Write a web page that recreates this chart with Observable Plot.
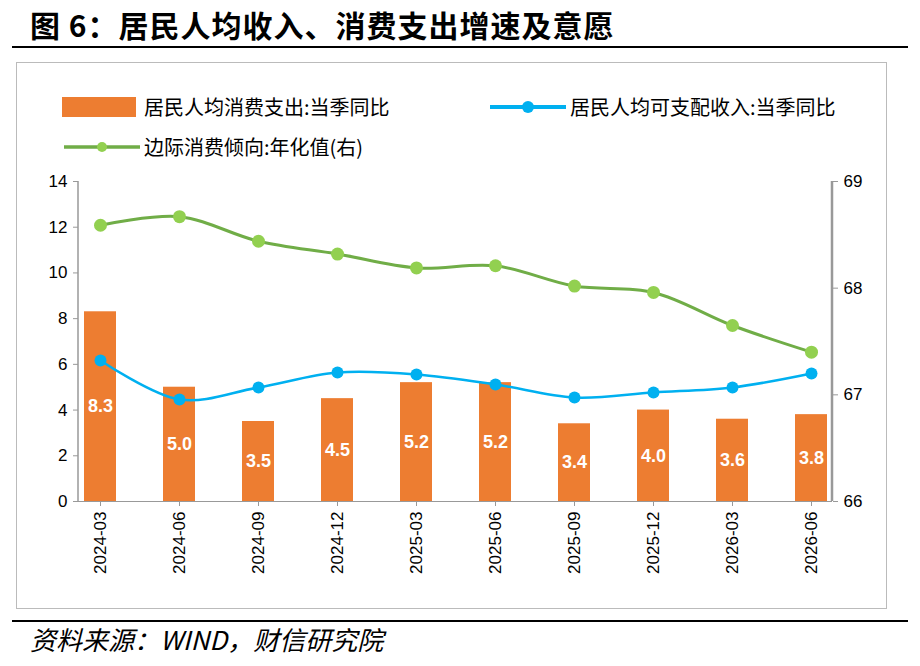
<!DOCTYPE html>
<html><head><meta charset="utf-8">
<script src="https://cdn.jsdelivr.net/npm/d3@7"></script>
<script src="https://cdn.jsdelivr.net/npm/@observablehq/plot@0.6"></script>
<style>
body{margin:0;width:920px;height:666px;background:#fff;position:relative;font-family:"Liberation Sans",Arial,"Noto Sans CJK SC";overflow:hidden}
#title{position:absolute;left:30px;top:2px;font:bold 30px "Noto Sans CJK SC";color:#000;letter-spacing:1px}
#tl{position:absolute;left:12px;top:46px;width:896px;border-top:2px solid #000}
#box{position:absolute;left:16px;top:62px;width:869px;height:545px;border:1px solid #bbb}
.leg{position:absolute;font:20px "Noto Sans CJK SC";color:#000;display:flex;align-items:center}
#chart{position:absolute;left:0;top:160px}
#bl{position:absolute;left:12px;top:620px;width:896px;border-top:2px solid #000}
#src{position:absolute;left:30px;top:620px;font:italic 26px "Noto Sans CJK SC";color:#000}
</style></head><body>
<div id="title">图 6：居民人均收入、消费支出增速及意愿</div>
<div id="tl"></div>
<div id="box"></div>
<div class="leg" style="left:62px;top:92px"><span style="display:inline-block;width:74px;height:20px;background:#ED7D31;margin-right:8px"></span>居民人均消费支出:当季同比</div>
<div class="leg" style="left:488px;top:92px"><svg width="80" height="20"><line x1="2" y1="10" x2="78" y2="10" stroke="#00B0F0" stroke-width="4"/><circle cx="40" cy="10" r="6" fill="#00B0F0"/></svg><span style="margin-left:2px">居民人均可支配收入:当季同比</span></div>
<div class="leg" style="left:62px;top:132px"><svg width="80" height="20"><line x1="2" y1="10" x2="78" y2="10" stroke="#70AD47" stroke-width="3.5"/><circle cx="40" cy="10" r="5" fill="#92D050"/></svg><span style="margin-left:2px">边际消费倾向:年化值(右)</span></div>
<div id="chart"></div>
<div id="bl"></div>
<div id="src">资料来源：WIND，财信研究院</div>
<script>
const dates=["2024-03","2024-06","2024-09","2024-12","2025-03","2025-06","2025-09","2025-12","2026-03","2026-06"];
const spend=[8.3,5.0,3.5,4.5,5.2,5.2,3.4,4.0,3.6,3.8];
const income=[6.17,4.46,4.99,5.64,5.56,5.12,4.55,4.77,4.99,5.60];
const mpc=[68.59,68.67,68.44,68.32,68.19,68.21,68.02,67.96,67.65,67.40];
const leftTicks=[0,2,4,6,8,10,12,14];
const rightTicks=[66,67,68,69];
const toL=v=>(v-66)/3*14, toR=v=>66+v*3/14;
const rows=dates.map((d,i)=>({d,s:spend[i],inc:income[i],m:toL(mpc[i])}));
const ax="#999";
const p=Plot.plot({
 width:920,height:460,marginTop:21,marginBottom:119,marginLeft:78,marginRight:88,
 style:{fontFamily:"Liberation Sans, Arial",fontSize:"17px",color:"#000",background:"transparent"},
 x:{domain:dates,paddingInner:0.6,paddingOuter:0.04,label:null},
 y:{domain:[0,14],label:null},
 marks:[
  Plot.barY(rows,{x:"d",y:"s",fill:"#ED7D31"}),
  Plot.text(rows,{x:"d",y:d=>d.s/2,text:d=>d.s.toFixed(1),fill:"white",fontSize:18,fontWeight:"bold"}),
  Plot.line(rows,{x:"d",y:"inc",stroke:"#00B0F0",strokeWidth:2.5,curve:"catmull-rom"}),
  Plot.dot(rows,{x:"d",y:"inc",fill:"#00B0F0",r:6}),
  Plot.line(rows,{x:"d",y:"m",stroke:"#70AD47",strokeWidth:3,curve:"catmull-rom"}),
  Plot.dot(rows,{x:"d",y:"m",fill:"#92D050",r:6.5}),
  Plot.axisY({ticks:leftTicks,tickSize:5,tickPadding:6,stroke:ax,fontSize:17}),
  Plot.ruleY([0],{stroke:ax}),
  Plot.axisY({anchor:"right",ticks:rightTicks.map(toL),tickFormat:v=>String(Math.round(toR(v))),tickSize:5,tickPadding:6,stroke:ax,fontSize:17}),
  Plot.axisX({tickRotate:-90,tickSize:5,tickPadding:5,stroke:ax,fontSize:17})
 ]
});
const svg=d3.select(p);
svg.append("line").attr("x1",78).attr("x2",78).attr("y1",21).attr("y2",341).attr("stroke",ax).attr("stroke-width",1.5);
svg.append("line").attr("x1",832).attr("x2",832).attr("y1",21).attr("y2",341).attr("stroke",ax).attr("stroke-width",2.5);
document.getElementById("chart").append(p);
</script></body></html>
